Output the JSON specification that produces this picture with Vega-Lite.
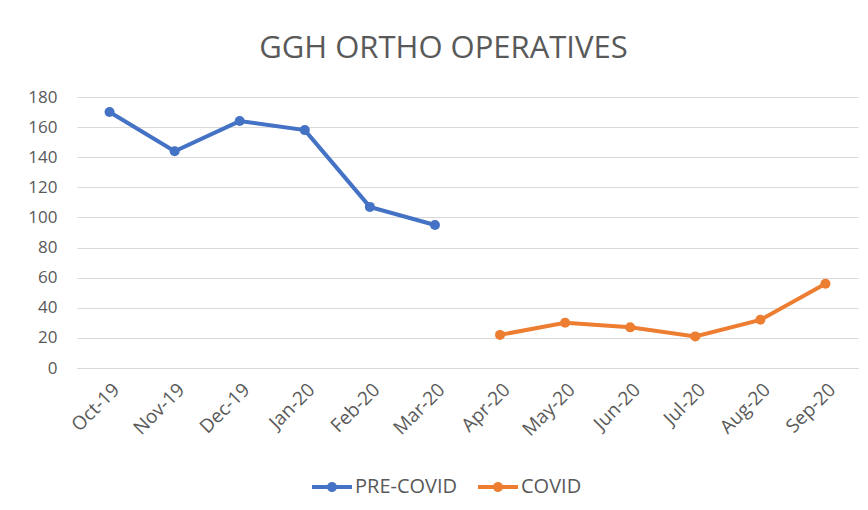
{
  "$schema": "https://vega.github.io/schema/vega-lite/v6.json",
  "width": 781,
  "height": 271,
  "autosize": {"type": "none"},
  "padding": {"left": 77, "top": 97, "right": 10, "bottom": 142},
  "background": "white",
  "title": {
    "text": "GGH ORTHO OPERATIVES",
    "font": "Open Sans",
    "fontSize": 31,
    "fontWeight": "normal",
    "color": "#595959",
    "anchor": "middle",
    "dx": -24,
    "offset": 23
  },
  "config": {
    "view": {"stroke": null},
    "font": "Open Sans"
  },
  "data": {
    "values": [
      {"month": "Oct-19", "value": 170, "period": "PRE-COVID"},
      {"month": "Nov-19", "value": 144, "period": "PRE-COVID"},
      {"month": "Dec-19", "value": 164, "period": "PRE-COVID"},
      {"month": "Jan-20", "value": 158, "period": "PRE-COVID"},
      {"month": "Feb-20", "value": 107, "period": "PRE-COVID"},
      {"month": "Mar-20", "value": 95, "period": "PRE-COVID"},
      {"month": "Apr-20", "value": 22, "period": "COVID"},
      {"month": "May-20", "value": 30, "period": "COVID"},
      {"month": "Jun-20", "value": 27, "period": "COVID"},
      {"month": "Jul-20", "value": 21, "period": "COVID"},
      {"month": "Aug-20", "value": 32, "period": "COVID"},
      {"month": "Sep-20", "value": 56, "period": "COVID"}
    ]
  },
  "encoding": {
    "x": {
      "field": "month",
      "type": "ordinal",
      "sort": ["Oct-19","Nov-19","Dec-19","Jan-20","Feb-20","Mar-20","Apr-20","May-20","Jun-20","Jul-20","Aug-20","Sep-20"],
      "scale": {"type": "point", "padding": 0.5},
      "axis": {
        "title": null,
        "labelAngle": -45,
        "labelFont": "Open Sans",
        "labelFontSize": 19,
        "labelColor": "#595959",
        "domainColor": "#d9d9d9",
        "domainWidth": 1,
        "ticks": false,
        "grid": false,
        "labelPadding": 12
      }
    },
    "y": {
      "field": "value",
      "type": "quantitative",
      "scale": {"domain": [0, 180], "nice": false},
      "axis": {
        "title": null,
        "values": [0, 20, 40, 60, 80, 100, 120, 140, 160, 180],
        "labelFont": "Open Sans",
        "labelFontSize": 17,
        "labelColor": "#595959",
        "domain": false,
        "ticks": false,
        "gridColor": "#d9d9d9",
        "gridWidth": 1,
        "labelPadding": 20
      }
    },
    "color": {
      "field": "period",
      "type": "nominal",
      "scale": {"domain": ["PRE-COVID", "COVID"], "range": ["#4472C4", "#ED7D31"]},
      "legend": {
        "title": null,
        "orient": "none",
        "direction": "horizontal",
        "legendX": 235,
        "legendY": 370,
        "labelFont": "Open Sans",
        "labelFontSize": 20,
        "labelColor": "#595959",
        "symbolType": "M-1,-0.1L1,-0.1L1,0.1L-1,0.1Z M0.25,0A0.25,0.25,0,1,1,-0.25,0A0.25,0.25,0,1,1,0.25,0Z",
        "symbolSize": 1600,
        "symbolStrokeWidth": 0,
        "symbolOpacity": 1,
        "labelOffset": 3,
        "columnPadding": 20
      }
    }
  },
  "layer": [
    {"mark": {"type": "line", "strokeWidth": 4}},
    {"mark": {"type": "point", "filled": true, "size": 100, "opacity": 1}}
  ]
}
